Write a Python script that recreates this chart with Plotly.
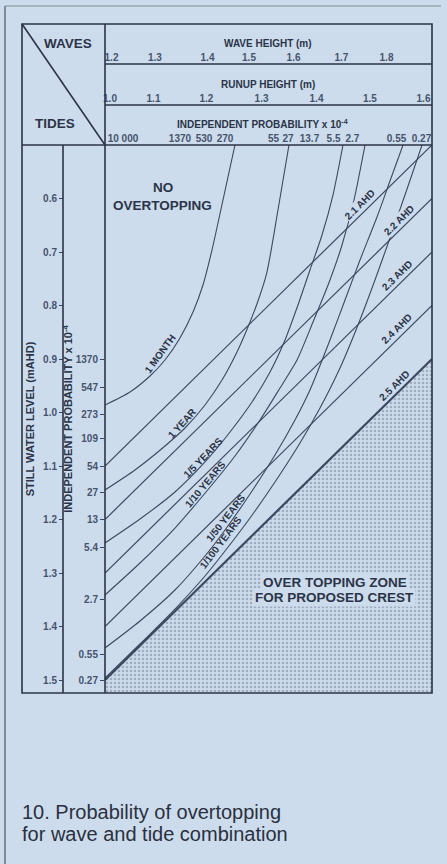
import plotly.graph_objects as go

# ---------------- data ----------------
runup_range = [1.0, 1.6]          # runup height (m), left -> right
tide_range = [1.5243, 0.5]        # still water level (mAHD), bottom -> top

tide_ticks = [0.6, 0.7, 0.8, 0.9, 1.0, 1.1, 1.2, 1.3, 1.4, 1.5]
tide_prob_levels = [0.9, 0.954, 1.003, 1.048, 1.1, 1.15, 1.2, 1.253, 1.35, 1.453, 1.5]
tide_prob_labels = ["1370", "547", "273", "109", "54", "27", "13", "5.4", "2.7", "0.55", "0.27"]

wave_height_labels = ["1.2", "1.3", "1.4", "1.5", "1.6", "1.7", "1.8"]
wave_height_pos = [1.0119, 1.0917, 1.1881, 1.2642, 1.3459, 1.4339, 1.5165]
runup_labels = ["1.0", "1.1", "1.2", "1.3", "1.4", "1.5", "1.6"]
runup_label_pos = [1.0092, 1.0890, 1.1862, 1.2872, 1.3881, 1.4862, 1.5844]
wave_prob_labels = ["10 000", "1370", "530", "270", "55", "27", "13.7", "5.5", "2.7", "0.55", "0.27"]
wave_prob_pos = [1.0330, 1.1376, 1.1817, 1.2202, 1.3092, 1.3358, 1.3752, 1.4193, 1.4541, 1.5349, 1.5807]

crest_levels = [2.1, 2.2, 2.3, 2.4, 2.5]   # AHD crest lines: tide + runup = crest
crest_label_runup = [1.477, 1.548, 1.545, 1.545, 1.540]

# return-period curves: runup (x, m) and still water level (y, mAHD)
month_x = [1.0, 1.0459, 1.0826, 1.1101, 1.1376, 1.1615, 1.1798, 1.1963, 1.2165, 1.2385]
month_y = [0.9860, 0.9617, 0.9318, 0.9019, 0.8607, 0.8121, 0.7617, 0.6963, 0.6028, 0.5]
year1_x = [1.0, 1.0550, 1.1101, 1.1468, 1.1835, 1.2147, 1.2422, 1.2661, 1.2826, 1.2972, 1.3174, 1.3376]
year1_y = [1.1449, 1.1075, 1.0626, 1.0290, 0.9860, 0.9393, 0.8869, 0.8308, 0.7860, 0.7374, 0.6215, 0.5]
year5_x = [1.0, 1.0642, 1.1284, 1.1835, 1.2294, 1.2697, 1.3028, 1.3303, 1.3541, 1.3761, 1.3982, 1.4183, 1.4367]
year5_y = [1.2439, 1.1991, 1.1486, 1.0925, 1.0364, 0.9804, 0.9243, 0.8645, 0.7991, 0.7336, 0.6682, 0.5935, 0.5]
year10_x = [1.0, 1.0642, 1.1284, 1.1853, 1.2385, 1.2844, 1.3211, 1.3523, 1.3817, 1.4128, 1.4349, 1.4569, 1.4771]
year10_y = [1.3411, 1.2813, 1.2159, 1.1486, 1.0813, 1.0140, 0.9542, 0.9019, 0.8308, 0.7523, 0.6869, 0.6028, 0.5]
year50_x = [1.0, 1.0642, 1.1284, 1.1835, 1.2202, 1.2661, 1.3119, 1.3486, 1.3761, 1.4128, 1.4404, 1.4679, 1.4991, 1.5229, 1.5468]
year50_y = [1.4402, 1.3897, 1.3318, 1.2682, 1.2196, 1.1523, 1.0794, 1.0140, 0.9579, 0.8645, 0.7897, 0.7150, 0.6346, 0.5673, 0.5]
year100_x = [1.0, 1.0642, 1.1284, 1.1835, 1.2202, 1.2661, 1.3119, 1.3578, 1.3945, 1.4312, 1.4642, 1.4954, 1.5229, 1.5523, 1.5817]
year100_y = [1.4963, 1.4327, 1.3673, 1.3056, 1.2589, 1.1972, 1.1299, 1.0570, 0.9916, 0.9168, 0.8364, 0.7523, 0.6738, 0.5879, 0.5]

curve_labels = ["1 MONTH", "1 YEAR", "1/5 YEARS", "1/10 YEARS", "1/50 YEARS", "1/100 YEARS"]
curve_label_x = [1.1009, 1.1431, 1.1798, 1.1853, 1.2202, 1.2128]
curve_label_y = [0.8888, 1.0196, 1.0832, 1.1336, 1.1972, 1.2439]
curve_label_angle = [-54, -48, -46, -50, -52, -53]

# ---------------- styling ----------------
W, H = 447, 864
ML, MR, MT, MB = 22, 15, 24, 171
PW, PH = W - ML - MR, H - MT - MB
def fx(p): return (p - ML) / PW
def fy(p): return (H - MB - p) / PH

BG = "#cddcec"
INK = "#2b3448"
LINE = "#3b4860"
TICK = "#46536c"
FONT = "Liberation Sans, Arial, sans-serif"

fig = go.Figure()

# overtopping zone below the 2.5 AHD crest
top = crest_levels[-1]
fig.add_trace(go.Scatter(
    x=[runup_range[0], runup_range[1], runup_range[1], runup_range[0]],
    y=[top - runup_range[0], top - runup_range[1], tide_range[0], tide_range[0]],
    fill="toself", mode="none", fillcolor=BG,
    fillpattern=dict(shape=".", fgcolor="#6f7d93", bgcolor=BG, size=4, solidity=0.35),
    hoverinfo="skip", showlegend=False))

# crest lines
for c in crest_levels:
    fig.add_trace(go.Scatter(
        x=runup_range, y=[c - runup_range[0], c - runup_range[1]], mode="lines",
        line=dict(color=LINE, width=2.2 if c == top else 1.2),
        hoverinfo="skip", showlegend=False))

# return period curves
for xs, ys in [(month_x, month_y), (year1_x, year1_y), (year5_x, year5_y),
               (year10_x, year10_y), (year50_x, year50_y), (year100_x, year100_y)]:
    fig.add_trace(go.Scatter(x=xs, y=ys, mode="lines",
                             line=dict(color=LINE, width=1.1, shape="spline", smoothing=0.7),
                             hoverinfo="skip", showlegend=False))

# invisible anchors for the header / probability axes
for ax, pos in [("x2", wave_height_pos), ("x3", runup_label_pos), ("x4", wave_prob_pos)]:
    fig.add_trace(go.Scatter(x=pos, y=[0.5] * len(pos), xaxis=ax, yaxis="y", mode="markers",
                             marker=dict(opacity=0), hoverinfo="skip", showlegend=False))
fig.add_trace(go.Scatter(x=[1.0] * len(tide_prob_levels), y=tide_prob_levels, xaxis="x", yaxis="y2",
                         mode="markers", marker=dict(opacity=0), hoverinfo="skip", showlegend=False))

hdr_font = dict(family=FONT, size=10, color=TICK, weight="bold")
def header_axis(pos, vals, text):
    return dict(overlaying="x", anchor="free", position=pos, side="top", range=runup_range,
                tickmode="array", tickvals=vals, ticktext=text, ticks="", showline=False,
                showgrid=False, zeroline=False, tickangle=0, tickfont=hdr_font,
                ticklabelstandoff=1, automargin=False)

fig.update_layout(
    width=W, height=H, autosize=False,
    margin=dict(l=ML, r=MR, t=MT, b=MB),
    paper_bgcolor=BG, plot_bgcolor=BG,
    font=dict(family=FONT, color=INK),
    xaxis=dict(domain=[fx(105), 1], range=runup_range, showticklabels=False, ticks="",
               showgrid=False, zeroline=False, showline=False, anchor="y"),
    xaxis2=header_axis(fy(64), wave_height_pos, wave_height_labels),
    xaxis3=header_axis(fy(105), runup_label_pos, runup_labels),
    xaxis4=header_axis(fy(145), wave_prob_pos, wave_prob_labels),
    yaxis=dict(domain=[0, fy(145)], range=tide_range, anchor="free", position=fx(63),
               tickmode="array", tickvals=tide_ticks, ticktext=[f"{v:.1f}" for v in tide_ticks],
               ticks="outside", ticklen=4, tickcolor=LINE, showgrid=False, zeroline=False,
               showline=False, tickfont=dict(family=FONT, size=10, color=TICK, weight="bold"),
               title=dict(text="STILL WATER LEVEL (mAHD)", standoff=5,
                          font=dict(family=FONT, size=11, color=INK, weight="bold")),
               automargin=False),
    yaxis2=dict(overlaying="y", anchor="x", side="left", range=tide_range,
                tickmode="array", tickvals=tide_prob_levels, ticktext=tide_prob_labels,
                ticks="outside", ticklen=4, tickcolor=LINE, showgrid=False, zeroline=False,
                showline=False, tickfont=dict(family=FONT, size=10, color=TICK, weight="bold"),
                title=dict(text="INDEPENDENT PROBABILITY x 10<sup>-4</sup>", standoff=0,
                           font=dict(family=FONT, size=11, color=INK, weight="bold")),
                automargin=False),
)

# table rules
lw = 1.6
shapes = [
    dict(type="rect", x0=0, x1=1, y0=0, y1=1),
    dict(type="line", x0=fx(63), x1=fx(63), y0=0, y1=fy(145)),
    dict(type="line", x0=fx(105), x1=fx(105), y0=0, y1=1),
    dict(type="line", x0=0, x1=1, y0=fy(145), y1=fy(145)),
    dict(type="line", x0=fx(105), x1=1, y0=fy(105), y1=fy(105)),
    dict(type="line", x0=fx(105), x1=1, y0=fy(64), y1=fy(64)),
    dict(type="line", x0=0, x1=fx(105), y0=1, y1=fy(145)),
]
for s in shapes:
    s.update(xref="paper", yref="paper", line=dict(color=INK, width=lw), layer="above")
    fig.add_shape(**s)
# page frame of the figure
fig.add_shape(type="line", xref="paper", yref="paper", x0=fx(5), x1=fx(5), y0=fy(864), y1=fy(6),
              line=dict(color="#7f8894", width=2))
fig.add_shape(type="line", xref="paper", yref="paper", x0=fx(5), x1=fx(441), y0=fy(6), y1=fy(6),
              line=dict(color="#9aa4b0", width=1.5))

def ann(text, x, y, size, xref="paper", yref="paper", **kw):
    d = dict(text=text, x=x, y=y, xref=xref, yref=yref, showarrow=False,
             xanchor=kw.pop("xanchor", "center"), yanchor=kw.pop("yanchor", "middle"),
             font=dict(family=FONT, size=size, color=kw.pop("color", INK),
                       weight=kw.pop("weight", "bold")))
    d.update(kw)
    fig.add_annotation(**d)

ann("WAVES", fx(68), fy(43), 13.5)
ann("TIDES", fx(55), fy(124), 13.5)
ann("WAVE HEIGHT (m)", fx(268), fy(43), 10)
ann("RUNUP HEIGHT (m)", fx(268), fy(84), 10)
ann("INDEPENDENT PROBABILITY x 10<sup>-4</sup>", fx(262), fy(124), 10)

ann("NO", 1.1064, 0.597, 13.5, xref="x", yref="y", yshift=9)
ann("OVERTOPPING", 1.1064, 0.597, 13.5, xref="x", yref="y", yshift=-9)
ann("OVER TOPPING ZONE", 1.422, 1.332, 13.5, xref="x", yref="y", yshift=8, bgcolor=BG)
ann("FOR PROPOSED CREST", 1.422, 1.332, 13.5, xref="x", yref="y", yshift=-7, bgcolor=BG)

for c, rx in zip(crest_levels, crest_label_runup):
    ann(f"{c:.1f} AHD", rx, c - rx, 10, xref="x", yref="y", textangle=-44.5,
        xshift=-5, yshift=6, bgcolor=BG, borderpad=0)

for t, x, y, a in zip(curve_labels, curve_label_x, curve_label_y, curve_label_angle):
    ann(t, x, y, 10, xref="x", yref="y", textangle=a)

ann("10. Probability of overtopping", fx(20), fy(812), 20, xanchor="left", weight="normal",
    color="#2a3040")
ann("for wave and tide combination", fx(20), fy(834), 20, xanchor="left", weight="normal",
    color="#2a3040")

fig.write_html("out.html", config={"displayModeBar": False, "staticPlot": True},
               post_script="document.body.style.margin='0';document.body.style.padding='0';"
                           "document.body.style.overflow='hidden';")
